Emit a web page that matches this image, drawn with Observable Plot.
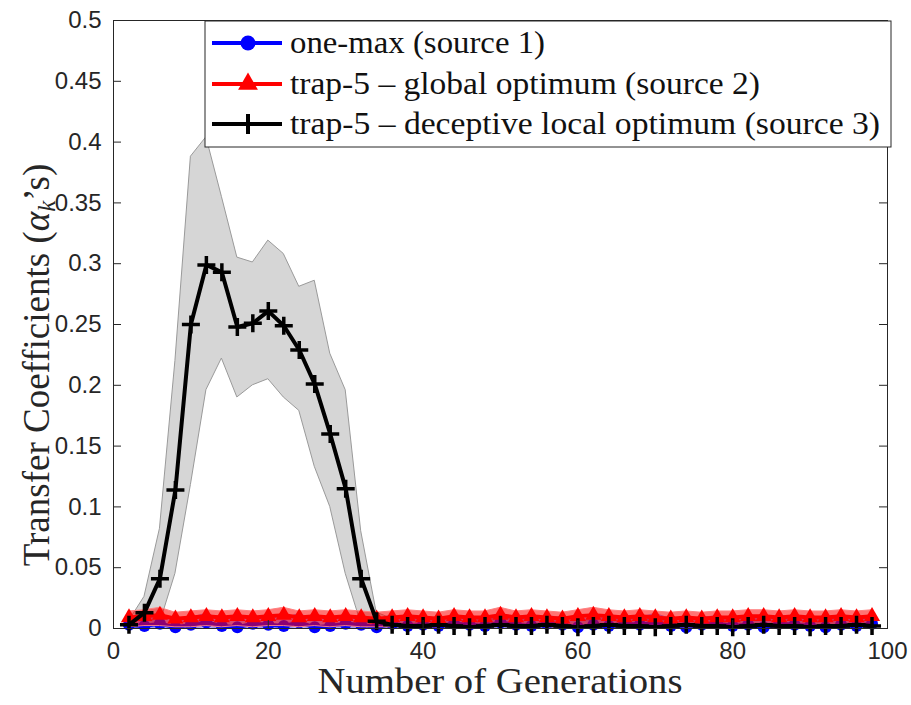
<!DOCTYPE html>
<html><head><meta charset="utf-8">
<script src="https://cdn.jsdelivr.net/npm/d3@7"></script>
<script src="https://cdn.jsdelivr.net/npm/@observablehq/plot@0.6"></script>
<style>body{margin:0;background:#fff}svg{display:block}</style>
</head><body><div id="chart"></div>
<script>
const generations = [2,4,6,8,10,12,14,16,18,20,22,24,26,28,30,32,34,36,38,40,42,44,46,48,50,52,54,56,58,60,62,64,66,68,70,72,74,76,78,80,82,84,86,88,90,92,94,96,98];
const xTicks = [0,20,40,60,80,100];
const yTicks = [0,0.05,0.1,0.15,0.2,0.25,0.3,0.35,0.4,0.45,0.5];
const yTickLabels = ["0","0.05","0.1","0.15","0.2","0.25","0.3","0.35","0.4","0.45","0.5"];
const seriesNames = ["one-max (source 1)", "trap-5 \u2013 global optimum (source 2)", "trap-5 \u2013 deceptive local optimum (source 3)"];

// source 1: one-max
const oneMax   = [0.003,0.002,0.004,0.001,0.003,0.005,0.002,0.001,0.004,0.003,0.002,0.005,0.001,0.002,0.004,0.003,0.001,0.004,0.002,0.003,0.002,0.004,0.003,0.002,0.005,0.003,0.002,0.004,0.003,0.001,0.003,0.002,0.004,0.003,0.005,0.002,0.001,0.003,0.004,0.002,0.003,0.001,0.004,0.003,0.002,0.001,0.003,0.002,0.004];
const oneMaxLo = [0,0,0,0,0,0.001,0,0,0,0,0,0.001,0,0,0,0,0,0,0,0,0,0,0,0,0.001,0,0,0,0,0,0,0,0,0,0.001,0,0,0,0,0,0,0,0,0,0,0,0,0,0];
const oneMaxHi = [0.009,0.008,0.010,0.007,0.009,0.012,0.008,0.007,0.010,0.009,0.008,0.012,0.007,0.008,0.010,0.009,0.007,0.011,0.008,0.009,0.008,0.010,0.009,0.008,0.012,0.009,0.008,0.010,0.009,0.007,0.009,0.008,0.010,0.009,0.012,0.008,0.007,0.009,0.010,0.008,0.009,0.007,0.010,0.009,0.008,0.007,0.009,0.008,0.010];
// source 2: trap-5 global optimum
const trapGlobal   = [0.009,0.010,0.011,0.008,0.009,0.010,0.009,0.010,0.009,0.010,0.011,0.009,0.010,0.009,0.010,0.009,0.008,0.009,0.010,0.009,0.008,0.010,0.009,0.009,0.011,0.009,0.010,0.009,0.008,0.010,0.011,0.010,0.009,0.010,0.009,0.008,0.009,0.008,0.009,0.009,0.010,0.010,0.009,0.010,0.009,0.009,0.010,0.009,0.010];
const trapGlobalLo = [0.001,0.002,0.002,0.001,0.001,0.002,0.001,0.002,0.001,0.002,0.002,0.001,0.002,0.001,0.002,0.001,0.001,0.001,0.002,0.001,0.001,0.002,0.001,0.001,0.002,0.001,0.002,0.001,0.001,0.002,0.002,0.002,0.001,0.002,0.001,0.001,0.001,0.001,0.001,0.001,0.002,0.002,0.001,0.002,0.001,0.001,0.002,0.001,0.002];
const trapGlobalHi = [0.014,0.015,0.017,0.013,0.014,0.015,0.014,0.015,0.014,0.015,0.017,0.014,0.015,0.014,0.015,0.014,0.013,0.014,0.015,0.014,0.013,0.015,0.014,0.014,0.017,0.014,0.015,0.014,0.013,0.015,0.017,0.015,0.014,0.015,0.014,0.013,0.014,0.013,0.014,0.014,0.015,0.015,0.014,0.015,0.014,0.014,0.015,0.014,0.015];
// source 3: trap-5 deceptive local optimum
const trapDeceptive   = [0.003,0.013,0.041,0.114,0.250,0.299,0.293,0.248,0.251,0.261,0.249,0.229,0.201,0.160,0.115,0.041,0.006,0.003,0.002,0.002,0.003,0.002,0.001,0.002,0.003,0.002,0.002,0.003,0.002,0.001,0.002,0.003,0.002,0.002,0.001,0.002,0.003,0.002,0.002,0.001,0.002,0.003,0.002,0.002,0.001,0.002,0.002,0.003,0.002];
const trapDeceptiveLo = [0,0.001,0.004,0.045,0.118,0.196,0.222,0.190,0.200,0.205,0.190,0.179,0.133,0.100,0.045,0.004,0,0,0,0,0,0,0,0,0,0,0,0,0,0,0,0,0,0,0,0,0,0,0,0,0,0,0,0,0,0,0,0,0];
const trapDeceptiveHi = [0.006,0.026,0.082,0.220,0.388,0.404,0.355,0.305,0.301,0.319,0.308,0.281,0.286,0.226,0.196,0.080,0.013,0.008,0.007,0.008,0.009,0.007,0.006,0.007,0.008,0.008,0.007,0.009,0.007,0.006,0.007,0.008,0.007,0.008,0.006,0.007,0.009,0.008,0.007,0.006,0.007,0.009,0.008,0.007,0.006,0.007,0.008,0.009,0.008];

const rows = (m, lo, hi) => generations.map((g, i) => ({x: g, y: m[i], lo: lo[i], hi: hi[i]}));
const s1 = rows(oneMax, oneMaxLo, oneMaxHi);
const s2 = rows(trapGlobal, trapGlobalLo, trapGlobalHi);
const s3 = rows(trapDeceptive, trapDeceptiveLo, trapDeceptiveHi);

const W = 911, H = 705, mL = 113, mR = 24, mT = 20, mB = 77;
const innerW = W - mL - mR, innerH = H - mT - mB;
const axisColor = "#262626";
const plusSymbol = {draw(ctx, size) { const h = Math.sqrt(size / Math.PI); ctx.moveTo(-h, 0); ctx.lineTo(h, 0); ctx.moveTo(0, -h); ctx.lineTo(0, h); }};

const plot = Plot.plot({
  width: W, height: H, marginLeft: mL, marginRight: mR, marginTop: mT, marginBottom: mB,
  style: {background: "#fff", fontFamily: "'Liberation Sans', Arial, sans-serif", fontSize: "24px", color: axisColor},
  x: {domain: [0, 100]},
  y: {domain: [0, 0.5]},
  marks: [
    Plot.areaY(s3, {x: "x", y1: "lo", y2: "hi", fill: "#d6d6d6", stroke: "#9a9a9a", strokeWidth: 1}),
    Plot.areaY(s1, {x: "x", y1: "lo", y2: "hi", fill: "#0000ff", fillOpacity: 0.35, stroke: "#8c8cff", strokeWidth: 1}),
    Plot.line(s1, {x: "x", y: "y", stroke: "#0000ff", strokeWidth: 4}),
    Plot.dot(s1, {x: "x", y: "y", r: 6, symbol: "circle", fill: "#0000ff"}),
    Plot.areaY(s2, {x: "x", y1: "lo", y2: "hi", fill: "#ff0000", fillOpacity: 0.55, stroke: "#ff8080", strokeWidth: 1}),
    Plot.line(s2, {x: "x", y: "y", stroke: "#ff0000", strokeWidth: 4}),
    Plot.dot(s2, {x: "x", y: "y", r: 6, symbol: d3.symbolTriangle, fill: "#ff0000"}),
    Plot.line(s3, {x: "x", y: "y", stroke: "#000", strokeWidth: 4}),
    Plot.dot(s3, {x: "x", y: "y", r: 9, symbol: plusSymbol, fill: "none", stroke: "#000", strokeWidth: 3.5}),
    Plot.frame({stroke: axisColor}),
    Plot.tickX(xTicks, {x: d => d, insetTop: innerH - 8, stroke: axisColor}),
    Plot.tickX(xTicks, {x: d => d, insetBottom: innerH - 8, stroke: axisColor}),
    Plot.tickY(yTicks, {y: d => d, insetRight: innerW - 8, stroke: axisColor}),
    Plot.tickY(yTicks, {y: d => d, insetLeft: innerW - 8, stroke: axisColor}),
    Plot.axisX(xTicks, {tickSize: 0, tickPadding: 13, label: null, fontSize: 24}),
    Plot.axisY(yTicks, {tickSize: 0, tickPadding: 12, label: null, fontSize: 24, tickFormat: d => yTickLabels[yTicks.indexOf(d)]})
  ]
});
document.getElementById("chart").appendChild(plot);

const svg = d3.select(plot);
const serif = "'Liberation Serif', 'Times New Roman', serif";
// axis labels
svg.append("text").attr("x", mL + innerW / 2).attr("y", 693).attr("text-anchor", "middle")
  .attr("font-family", serif).attr("font-size", 35).attr("fill", axisColor)
  .attr("textLength", 365).attr("lengthAdjust", "spacingAndGlyphs")
  .text("Number of Generations");
const yl = svg.append("text").attr("transform", "translate(49,365) rotate(-90)").attr("text-anchor", "middle")
  .attr("font-family", serif).attr("font-size", 37).attr("fill", axisColor);
yl.append("tspan").text("Transfer Coefficients (");
yl.append("tspan").attr("font-style", "italic").text("\u03b1");
yl.append("tspan").attr("font-style", "italic").attr("font-size", 25).attr("dy", 6).text("k");
yl.append("tspan").attr("dy", -6).text("\u2019s)");

// legend
const lg = svg.append("g");
lg.append("rect").attr("x", 205).attr("y", 21).attr("width", 686).attr("height", 126)
  .attr("fill", "#fff").attr("stroke", axisColor).attr("stroke-width", 1);
const rowsY = [43, 84, 124];
const colors = ["#0000ff", "#ff0000", "#000"];
const widths = [255, 470, 590];
seriesNames.forEach((name, i) => {
  const y = rowsY[i];
  lg.append("line").attr("x1", 212).attr("x2", 282).attr("y1", y).attr("y2", y)
    .attr("stroke", colors[i]).attr("stroke-width", 4);
  if (i === 0) lg.append("circle").attr("cx", 248).attr("cy", y).attr("r", 7.5).attr("fill", colors[i]);
  if (i === 1) lg.append("path").attr("transform", `translate(248,${y})`)
    .attr("d", d3.symbol(d3.symbolTriangle, 170)()).attr("fill", colors[i]);
  if (i === 2) lg.append("path").attr("d", `M238,${y}H258M248,${y - 10}V${y + 10}`)
    .attr("stroke", "#000").attr("stroke-width", 4).attr("fill", "none");
  lg.append("text").attr("x", 290).attr("y", y + 10).attr("text-anchor", "start")
    .attr("font-family", serif).attr("font-size", 31)
    .attr("fill", "#111").attr("textLength", widths[i]).attr("lengthAdjust", "spacingAndGlyphs").text(name);
});
</script>
</body></html>
